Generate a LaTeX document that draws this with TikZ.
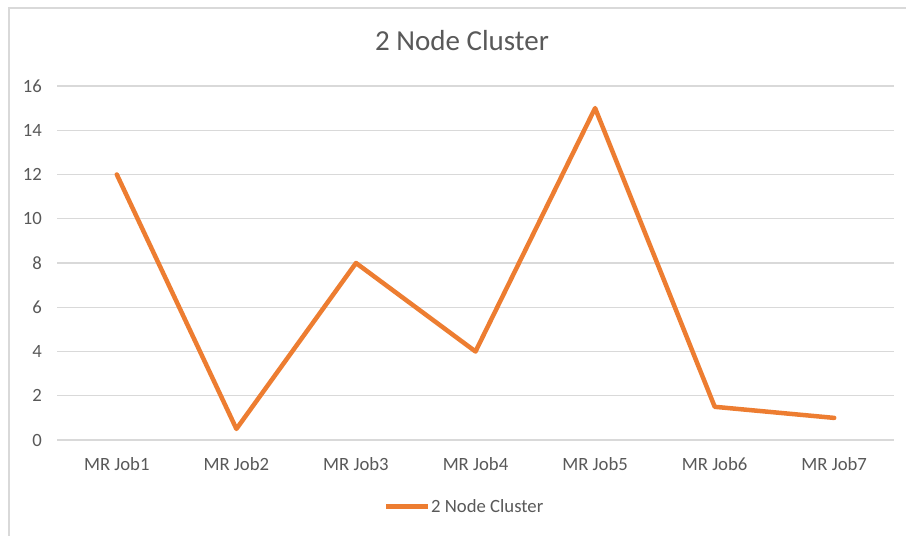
\documentclass[tikz,border=0pt]{standalone}
\usepackage{fontspec}
\setmainfont{Carlito}
\definecolor{txtgray}{HTML}{595959}
\definecolor{gridgray}{HTML}{D9D9D9}
\definecolor{series}{HTML}{ED7D31}
\begin{document}
\begin{tikzpicture}[x=1bp,y=-1bp,
  lbl/.style={text=txtgray,font=\fontsize{18.7bp}{22bp}\selectfont,inner sep=0pt},
  titlelbl/.style={text=txtgray,font=\fontsize{29bp}{34bp}\selectfont,inner sep=0pt},
  gridline/.style={draw=gridgray,line width=1.3bp},
  seriesline/.style={draw=series,line width=4.5bp,line join=round,line cap=round}]
\useasboundingbox (0,0) rectangle (906,536);
\fill[white] (0,0) rectangle (906,536);
% chart area frame
\draw[gridgray,line width=1.5bp] (9,536) -- (9,8) -- (906,8);
% title
\node[titlelbl,anchor=base] (title) at (462,51) {2 Node Cluster};
% horizontal gridlines and value labels
\foreach \v in {0,2,...,16} {
  \pgfmathsetmacro\yy{440-22.125*\v}
  \draw[gridline] (57,\yy) -- (894,\yy);
  \node[lbl,anchor=east] (tick\v) at (42,\yy) {\v};
}
% category labels
\foreach \i in {1,...,7} {
  \pgfmathsetmacro\xx{57+(\i-0.5)*119.57}
  \node[lbl,anchor=base] (cat\i) at (\xx,470) {MR Job\i};
}
% data points
\coordinate (p1) at (116.8,174.5);
\coordinate (p2) at (236.4,428.9);
\coordinate (p3) at (356.0,263.0);
\coordinate (p4) at (475.5,351.5);
\coordinate (p5) at (595.1,108.1);
\coordinate (p6) at (714.7,406.8);
\coordinate (p7) at (834.2,417.9);
\draw[seriesline] (p1) -- (p2) -- (p3) -- (p4) -- (p5) -- (p6) -- (p7);
% legend
\coordinate (legA) at (386,506.5);
\coordinate (legB) at (428,506.5);
\draw[seriesline,line cap=butt] (legA) -- (legB);
\node[lbl,anchor=base west] (legtext) at (431,512) {2 Node Cluster};
\end{tikzpicture}
\end{document}
